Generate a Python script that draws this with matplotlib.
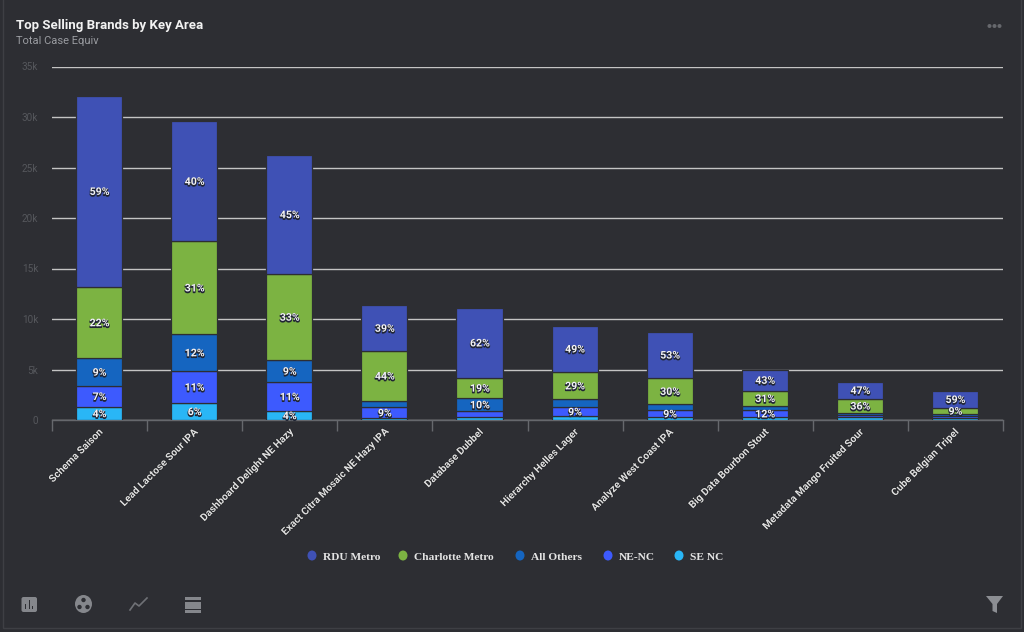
import matplotlib
matplotlib.use("Agg")
import matplotlib.pyplot as plt
import matplotlib.patheffects as pe
from matplotlib.patches import Rectangle, Circle, Ellipse, Polygon, FancyBboxPatch
from matplotlib.transforms import ScaledTranslation
import numpy as np

brands = ["Schema Saison", "Lead Lactose Sour IPA", "Dashboard Delight NE Hazy",
          "Exact Citra Mosaic NE Hazy IPA", "Database Dubbel", "Hierarchy Helles Lager",
          "Analyze West Coast IPA", "Big Data Bourbon Stout", "Metadata Mango Fruited Sour",
          "Cube Belgian Tripel"]

# values in thousands, bottom of the stack first
se_nc = [1.3, 1.7, 0.9, 0.2, 0.25, 0.4, 0.25, 0.25, 0.3, 0.15]
ne_nc = [2.1, 3.15, 2.85, 1.05, 0.65, 0.85, 0.75, 0.75, 0.2, 0.2]
all_others = [2.7, 3.65, 2.2, 0.65, 1.25, 0.8, 0.55, 0.4, 0.2, 0.25]
charlotte = [7.1, 9.2, 8.5, 4.95, 2.05, 2.7, 2.6, 1.5, 1.4, 0.6]
rdu = [18.9, 11.9, 11.8, 4.5, 6.9, 4.6, 4.6, 2.1, 1.7, 1.7]

se_labels = ["4%", "6%", "4%", "", "", "", "", "", "", ""]
ne_labels = ["7%", "11%", "11%", "9%", "", "9%", "9%", "12%", "", ""]
others_labels = ["9%", "12%", "9%", "", "10%", "", "", "", "", ""]
charlotte_labels = ["22%", "31%", "33%", "44%", "19%", "29%", "30%", "31%", "36%", "9%"]
rdu_labels = ["59%", "40%", "45%", "39%", "62%", "49%", "53%", "43%", "47%", "59%"]

series_names = ["SE NC", "NE-NC", "All Others", "Charlotte Metro", "RDU Metro"]
series_values = [se_nc, ne_nc, all_others, charlotte, rdu]
series_labels = [se_labels, ne_labels, others_labels, charlotte_labels, rdu_labels]
series_colors = ["#29b6f6", "#3d5afe", "#1565c0", "#7cb342", "#3f51b5"]

y_ticks = [0, 5, 10, 15, 20, 25, 30, 35]
y_tick_labels = ["0", "5k", "10k", "15k", "20k", "25k", "30k", "35k"]

BG = "#2d2e33"
W, H = 1024, 632
sans = ["Roboto", "DejaVu Sans"]

fig = plt.figure(figsize=(W / 100, H / 100), dpi=100, facecolor=BG)

# plot area in pixels: x 52-1003, y 66.5-420
ax = fig.add_axes([52 / W, 1 - 420 / H, 951 / W, 353.5 / H], facecolor=BG)
ax.set_xlim(-0.5, 9.5)
ax.set_ylim(0, 35)

# dark stroke shifted down a bit, the labels in the reference look underlined
shadow = [pe.Stroke(linewidth=1.0, foreground="#1f2433", offset=(0, -0.8)), pe.Normal()]
x = np.arange(len(brands))
bottom = np.zeros(len(brands))
for vals, labs, col in zip(series_values, series_labels, series_colors):
    ax.bar(x - 0.005, vals, 0.485, bottom=bottom, color=col, edgecolor=BG, linewidth=0.9, zorder=3)
    for i, lab in enumerate(labs):
        if lab:
            ax.annotate(lab, (i, bottom[i] + vals[i] / 2), xytext=(0, -0.5), textcoords="offset points",
                        ha="center", va="center", color="#f4f4f8",
                        fontsize=7.6, fontweight="bold", family=sans,
                        path_effects=shadow, zorder=4)
    bottom = bottom + np.array(vals)

ax.set_yticks(y_ticks)
ax.set_yticklabels(y_tick_labels, color="#55575c", fontsize=7.2, family=sans)
ax.tick_params(axis="y", length=0, pad=10)
ax.yaxis.grid(True, color="#c4c4c4", linewidth=1.0, zorder=1)
ax.set_axisbelow(True)

ax.set_xticks(x)
ax.set_xticklabels(brands, rotation=45, ha="right", va="top", rotation_mode="anchor",
                   color="#dedede", fontsize=7.4, fontweight="bold", family=sans,
                   path_effects=[pe.withStroke(linewidth=0.8, foreground="#1c1d20")])
ax.tick_params(axis="x", length=0, pad=5)
ax.set_xticks(np.arange(-0.5, 10, 1), minor=True)
ax.tick_params(axis="x", which="minor", length=8, width=1, color="#66686d")
# tick labels sit 2px further left than the tick centre
nudge = ScaledTranslation(-2 / 100, 0, fig.dpi_scale_trans)
for lab in ax.get_xticklabels():
    lab.set_transform(lab.get_transform() + nudge)

for s in ["top", "right", "left"]:
    ax.spines[s].set_visible(False)
ax.spines["bottom"].set_color("#66686d")
ax.spines["bottom"].set_linewidth(1)

# overlay in pixel coordinates for title, legend and the toolbar icons
ov = fig.add_axes([0, 0, 1, 1], facecolor="none", zorder=5)
ov.set_xlim(0, W)
ov.set_ylim(H, 0)
ov.axis("off")

ov.add_patch(Rectangle((3, -5), 1018, 633, fill=False, edgecolor="#3e3f44", linewidth=1))

ov.text(16, 26, "Top Selling Brands by Key Area", color="#f2f2f2", fontsize=9.5,
        fontweight="bold", family=sans, va="center")
ov.text(16, 41.5, "Total Case Equiv", color="#9a9ca1", fontsize=8, family=sans, va="center")

for px in [989.5, 994.5, 999.5]:
    ov.add_patch(Circle((px, 26), 2, color="#66686d", lw=0))

# legend, written out by hand to keep the reference's order and spacing
legend_dots = [312, 403, 520, 608, 679]
legend_text = [323, 414, 531, 619, 690]
for dot, tx, name, col in zip(legend_dots, legend_text, series_names[::-1], series_colors[::-1]):
    ov.add_patch(Ellipse((dot, 555.5), 9, 10, color=col, lw=0))
    ov.text(tx, 557, name, color="#e4e4e4", fontsize=8.2, fontweight="bold",
            family=["Liberation Serif", "DejaVu Serif"], va="center")

icon = "#85878c"
ov.add_patch(FancyBboxPatch((21.5, 597), 15.5, 15, boxstyle="round,pad=0,rounding_size=2", color=icon, lw=0))
for bx, bh in [(25, 5), (28.5, 9), (32, 3)]:
    ov.add_patch(Rectangle((bx, 609 - bh), 1.3, bh, color=BG, lw=0))

ov.add_patch(Ellipse((83.5, 604), 17, 18, color=icon, lw=0))
for cx, cy in [(83.5, 600), (79.5, 607), (87.5, 607)]:
    ov.add_patch(Circle((cx, cy), 2.2, color=BG, lw=0))

ov.plot([130, 135, 139, 147], [610, 603, 606, 598], color="#6f7176", lw=1.2)

for by, bh in [(597, 3), (602, 6.5), (610, 3)]:
    ov.add_patch(Rectangle((184.5, by), 16.5, bh, color=icon, lw=0))

ov.add_patch(Polygon([(986, 596), (1003, 596), (997, 604), (997, 613), (992.5, 611), (992.5, 604)],
                     closed=True, color="#8c8e93", lw=0))

fig.savefig("out.png", dpi=100, facecolor=BG)
